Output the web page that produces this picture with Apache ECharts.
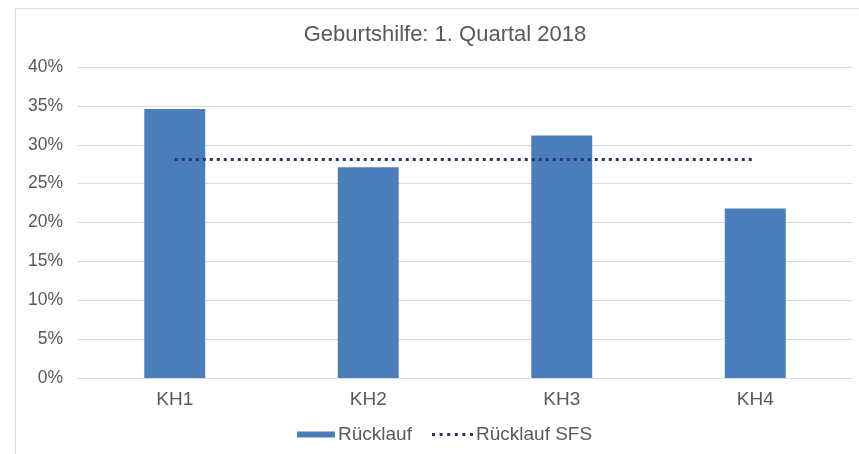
<!DOCTYPE html>
<html>
<head>
<meta charset="utf-8">
<script src="https://cdn.jsdelivr.net/npm/echarts@6/dist/echarts.min.js"></script>
<style>
html,body{margin:0;padding:0;background:#fff;}
#c{width:859px;height:454px;}
</style>
</head>
<body>
<div id="c"></div>
<script>
var categories = ['KH1', 'KH2', 'KH3', 'KH4'];
var ruecklauf = [0.346, 0.271, 0.312, 0.218];
var ruecklaufSFS = [0.281, 0.281, 0.281, 0.281];
var yTicks = { min: 0, max: 0.4, interval: 0.05 };

var chart = echarts.init(document.getElementById('c'), null, { renderer: 'canvas' });
var font = 'Liberation Sans, Arial, sans-serif';
var dotsIcon = 'path://M0,0h3v3h-3zM7.6,0h3v3h-3zM15.2,0h3v3h-3zM22.8,0h3v3h-3zM30.4,0h3v3h-3zM38,0h3v3h-3z';
chart.setOption({
  animation: false,
  backgroundColor: '#ffffff',
  graphic: [{
    type: 'rect',
    shape: { x: 15.5, y: 8.5, width: 900, height: 500 },
    style: { fill: 'none', stroke: '#d9d9d9', lineWidth: 1 },
    silent: true
  }],
  title: {
    text: 'Geburtshilfe: 1. Quartal 2018',
    left: 440, top: 18.5, textAlign: 'center',
    textStyle: { fontFamily: font, fontSize: 22, fontWeight: 'normal', color: '#595959' }
  },
  legend: [{
    left: 297, top: 425, padding: 0,
    itemWidth: 38, itemHeight: 6, itemGap: 0,
    textStyle: { fontFamily: font, fontSize: 19, color: '#595959', padding: [0, 0, 0, -2] },
    data: [{ name: 'Rücklauf', icon: 'rect', itemStyle: { color: '#4a7ebb' } }]
  }, {
    left: 432, top: 425, padding: 0,
    itemWidth: 41, itemHeight: 3, itemGap: 0,
    textStyle: { fontFamily: font, fontSize: 19, color: '#595959', padding: [0, 0, 0, -2] },
    data: [{ name: 'Rücklauf SFS', icon: dotsIcon, itemStyle: { color: '#1f3864' } }]
  }],
  grid: { left: 78, right: 7, top: 67, bottom: 76, containLabel: false },
  xAxis: {
    type: 'category',
    data: categories,
    boundaryGap: true,
    axisLine: { lineStyle: { color: '#d9d9d9' } },
    axisTick: { show: false },
    axisLabel: { fontFamily: font, fontSize: 19, color: '#595959', margin: 12 }
  },
  yAxis: {
    type: 'value',
    min: yTicks.min, max: yTicks.max, interval: yTicks.interval,
    axisLine: { show: false },
    axisTick: { show: false },
    splitLine: { lineStyle: { color: '#d9d9d9', width: 1 } },
    axisLabel: {
      fontFamily: font, fontSize: 17.5, color: '#595959', margin: 15,
      formatter: function (v) { return Math.round(v * 100) + '%'; }
    }
  },
  series: [
    {
      name: 'Rücklauf', type: 'bar', data: ruecklauf,
      barWidth: '31.5%',
      itemStyle: { color: '#4a7ebb' }
    },
    {
      name: 'Rücklauf SFS', type: 'line', data: ruecklaufSFS,
      symbol: 'none',
      lineStyle: { color: '#1f3864', width: 3, type: [3, 4] },
      itemStyle: { color: '#1f3864' }
    }
  ]
});
</script>
</body>
</html>
